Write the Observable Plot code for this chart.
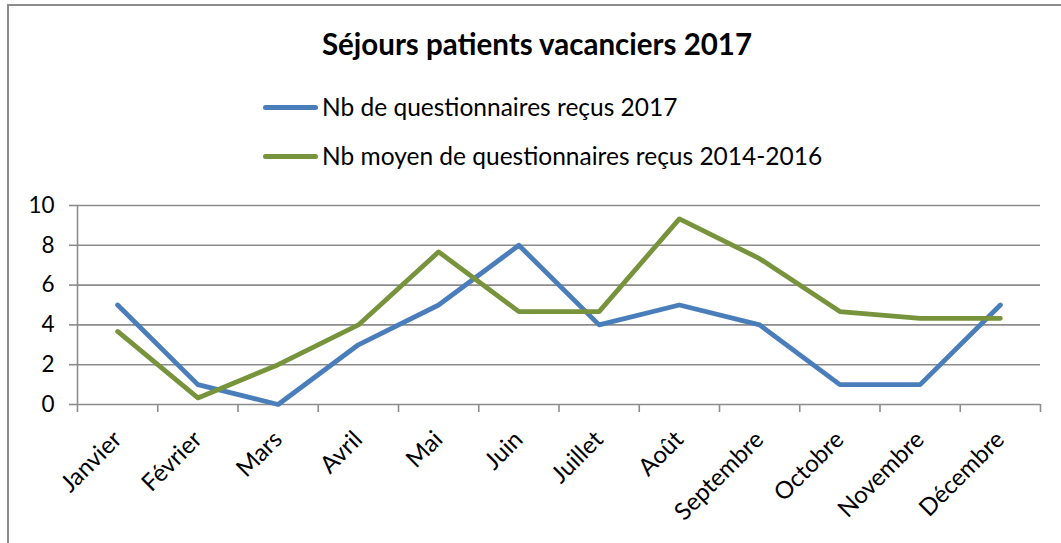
<!DOCTYPE html>
<html>
<head>
<meta charset="utf-8">
<script src="https://cdn.jsdelivr.net/npm/d3@7"></script>
<script src="https://cdn.jsdelivr.net/npm/@observablehq/plot@0.6"></script>
<style>
  html, body { margin: 0; padding: 0; background: #fff; }
  #wrap { position: relative; width: 1061px; height: 543px; overflow: hidden; font-family: Lato, "Open Sans", sans-serif; color: #000; }
  #frame { position: absolute; left: 7px; top: 4px; right: -10px; bottom: -10px; border-left: 2px solid #8c8c8c; border-top: 2px solid #8c8c8c; }
  #title { position: absolute; left: 0; width: 1074px; top: 27px; text-align: center; font-weight: bold; font-size: 29.5px; line-height: 34px; }
  .leg { position: absolute; left: 263px; display: flex; align-items: center; font-size: 24.5px; line-height: 30px; white-space: nowrap; }
  .sw { width: 55px; height: 5px; border-radius: 3px; margin-right: 4px; }
  #chart { position: absolute; left: 0; top: 180px; }
</style>
</head>
<body>
<div id="wrap">
  <div id="frame"></div>
  <div id="title"></div>
  <div id="legend"></div>
  <div id="chart"></div>
</div>
<script>
const title = "Séjours patients vacanciers 2017";
const months = ["Janvier","Février","Mars","Avril","Mai","Juin","Juillet","Août","Septembre","Octobre","Novembre","Décembre"];
const seriesNames = ["Nb de questionnaires reçus 2017", "Nb moyen de questionnaires reçus 2014-2016"];
const recus2017 = [5, 1, 0, 3, 5, 8, 4, 5, 4, 1, 1, 5];
const moyen20142016 = [3.67, 0.33, 2, 4, 7.67, 4.67, 4.67, 9.33, 7.33, 4.67, 4.33, 4.33];
const yTicks = [0, 2, 4, 6, 8, 10];
const colors = ["#4a7ebb", "#77933c"];

document.getElementById("title").textContent = title;
const legend = document.getElementById("legend");
seriesNames.forEach((name, i) => {
  const row = document.createElement("div");
  row.className = "leg";
  row.style.top = (92 + i * 49) + "px";
  const sw = document.createElement("div");
  sw.className = "sw";
  sw.style.background = colors[i];
  const t = document.createElement("span");
  t.textContent = name;
  row.appendChild(sw); row.appendChild(t);
  legend.appendChild(row);
});

const data = [];
[recus2017, moyen20142016].forEach((vals, s) => {
  vals.forEach((v, i) => data.push({series: seriesNames[s], idx: i + 0.5, value: v}));
});
const boundaries = d3.range(0, months.length + 1);
const centers = months.map((m, i) => i + 0.5);

const chart = Plot.plot({
  width: 1061,
  height: 363,
  marginTop: 25,
  marginBottom: 139,
  marginLeft: 77,
  marginRight: 21,
  style: {fontFamily: "Lato, 'Open Sans', sans-serif", color: "#000", background: "transparent", overflow: "visible"},
  x: {type: "linear", domain: [0, months.length]},
  y: {domain: [0, 10]},
  marks: [
    Plot.gridY(yTicks, {stroke: "#8c8c8c", strokeOpacity: 1, strokeWidth: 1.6}),
    Plot.axisY(yTicks, {tickSize: 8, tickPadding: 15, fontSize: 22.5, stroke: "#8c8c8c", strokeWidth: 1.6, fill: "#000", label: null}),
    Plot.ruleX([0], {stroke: "#8c8c8c", strokeWidth: 1.6}),
    Plot.axisX(boundaries, {tickSize: 8, tickFormat: () => "", stroke: "#8c8c8c", strokeWidth: 1.6, label: null}),
    Plot.axisX(centers, {tickSize: 0, tickPadding: 31, tickRotate: -45, fontSize: 24, fill: "#000", label: null,
      tickFormat: d => months[Math.floor(d)]}),
    Plot.line(data, {x: "idx", y: "value", z: "series", stroke: d => d.series,
      strokeWidth: 4.8, strokeLinecap: "round", strokeLinejoin: "round"})
  ],
  color: {domain: seriesNames, range: colors}
});
document.getElementById("chart").appendChild(chart);
</script>
</body>
</html>
